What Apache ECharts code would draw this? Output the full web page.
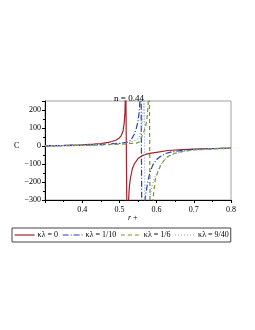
<!DOCTYPE html>
<html><head><meta charset="utf-8">
<script src="https://cdn.jsdelivr.net/npm/echarts@6/dist/echarts.min.js"></script>
<style>html,body{margin:0;padding:0;background:#fff}#c{width:255px;height:330px}</style>
</head><body><div id="c"></div>
<script>
const seriesNames = ['κλ = 0', 'κλ = 1/10', 'κλ = 1/6', 'κλ = 9/40'];
const xTicks = [0.3, 0.4, 0.5, 0.6, 0.7, 0.8];
const yTicks = [-300, -200, -100, 0, 100, 200];

const r0 = [0.3,0.35,0.4,0.43,0.45,0.47,0.48,0.49,0.5,0.505,0.51,0.513,0.515,0.517,
            0.521,0.524,0.527,0.53,0.535,0.54,0.55,0.56,0.57,0.585,0.6,0.63,0.67,0.7,0.75,0.8];
const c0 = [1,3,6,10,14,20,25,32,45,58,85,130,190,400,
            -600,-320,-220,-175,-125,-100,-70,-55,-47,-40,-35,-25,-20,-17,-14,-12];

const r1 = [0.3,0.35,0.4,0.45,0.5,0.52,0.53,0.54,0.545,0.55,0.553,0.556,0.558,
            0.561,0.566,0.57,0.575,0.58,0.584,0.59,0.6,0.61,0.624,0.64,0.67,0.7,0.75,0.8];
const c1 = [1,2,4,8,15,20,30,65,95,135,185,270,500,
            -800,-350,-280,-215,-165,-136,-105,-75,-58,-42,-33,-24,-19,-15,-12];

const r2 = [0.3,0.4,0.45,0.5,0.53,0.548,0.555,0.566,0.57,0.574,0.577,0.58,
            0.584,0.588,0.592,0.597,0.605,0.611,0.62,0.629,0.645,0.67,0.7,0.75,0.8];
const c2 = [0.5,3,6,10,14,17,25,80,105,150,220,500,
            -900,-400,-260,-181,-135,-107,-80,-60,-42,-30,-22,-16,-13];

const r3 = [0.3,0.4,0.45,0.5,0.53,0.55,0.555,0.56,0.563,0.565,0.567,
            0.569,0.575,0.58,0.588,0.595,0.602,0.61,0.62,0.635,0.65,0.68,0.7,0.75,0.8];
const c3 = [1,4,7,13,20,40,60,100,160,230,500,
            -800,-400,-300,-220,-175,-145,-110,-79,-55,-42,-28,-22,-16,-13];

const colors = ['#a8202c', '#2a3fb0', '#6b9e20', '#8c9cdc'];
const dashes = ['solid', [6,2,1,2], [4,3], [1,2]];
const rs = [r0, r1, r2, r3];
const cs = [c0, c1, c2, c3];

const font = '"Liberation Serif", "DejaVu Serif", serif';
const chart = echarts.init(document.getElementById('c'));
chart.setOption({
  animation: false,
  title: { text: 'n = 0.44', left: 124, top: 89, textAlign: 'center',
    textStyle: { fontFamily: font, fontSize: 9, fontWeight: 'normal', color: '#000' } },
  grid: { left: 45, right: 24, top: 101, bottom: 130, show: true, borderColor: '#a0a0a0', borderWidth: 1 },
  xAxis: { type: 'value', min: 0.3, max: 0.8, interval: 0.1,
    axisLine: { onZero: false, lineStyle: { color: '#000', width: 1 } },
    axisTick: { length: 3, lineStyle: { color: '#000' } },
    minorTick: { show: true, splitNumber: 2, length: 2, lineStyle: { color: '#000' } },
    splitLine: { show: false },
    axisLabel: { fontFamily: font, fontSize: 8, color: '#000', margin: 6,
      formatter: v => (Math.abs(v - 0.3) < 1e-9 ? '' : v.toFixed(1)) } },
  yAxis: { type: 'value', min: -300, max: 250, interval: 100,
    axisLine: { onZero: false, lineStyle: { color: '#000', width: 1 } },
    axisTick: { length: 3, lineStyle: { color: '#000' } },
    minorTick: { show: true, splitNumber: 2, length: 2, lineStyle: { color: '#000' } },
    splitLine: { show: false },
    axisLabel: { fontFamily: font, fontSize: 8, color: '#000', margin: 4,
      formatter: v => (v > 200 ? '' : String(v).replace('-', '−')) } },
  legend: { left: 12, top: 228, width: 225, padding: [3, 2, 3, 2], itemGap: 4,
    itemWidth: 20, itemHeight: 8, borderColor: '#444', borderWidth: 1,
    itemStyle: { opacity: 0 },
    lineStyle: { width: 1.2 },
    textStyle: { fontFamily: font, fontSize: 8, color: '#000', padding: [0, 0, 0, -2] },
    data: seriesNames },
  graphic: [
    { type: 'text', left: 14, top: 142, style: { text: 'C', font: '8px ' + font, fill: '#000' } },
    { type: 'text', left: 128, top: 214, style: { text: '{i|r} +', font: '8px ' + font, fill: '#000',
      rich: { i: { fontStyle: 'italic', fontFamily: font, fontSize: 8 } } } }
  ],
  series: seriesNames.map((name, k) => ({
    name, type: 'line', symbol: 'none', smooth: false, clip: true,
    data: rs[k].map((r, i) => [r, cs[k][i]]),
    lineStyle: { color: colors[k], width: 1.2, type: dashes[k] },
    itemStyle: { color: colors[k] }
  }))
});
</script></body></html>
